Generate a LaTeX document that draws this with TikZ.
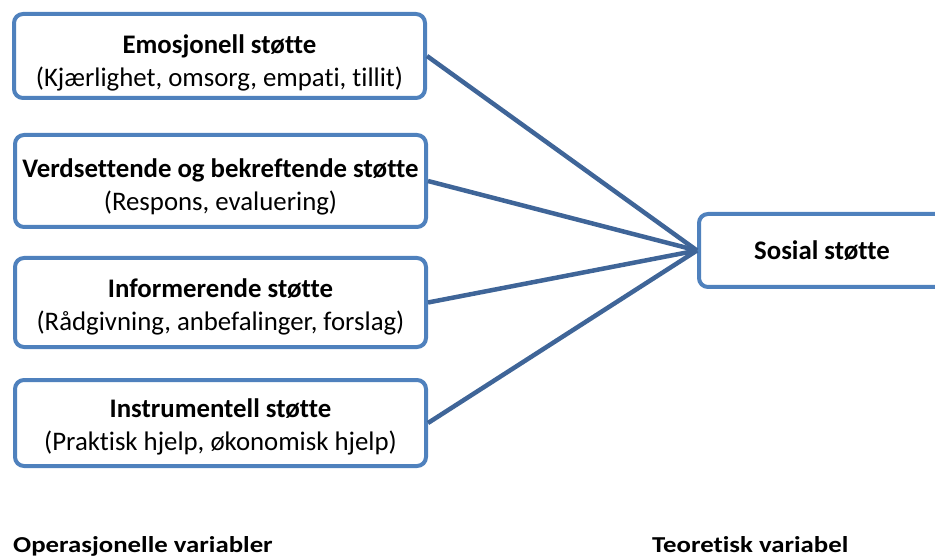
\documentclass[tikz,border=0pt]{standalone}
\usepackage{fontspec}
\setmainfont[Ligatures={NoCommon}]{Carlito}
\definecolor{boxblue}{HTML}{4F81BD}
\definecolor{lineblue}{HTML}{3F6598}
\begin{document}
\begin{tikzpicture}[x=1pt,y=-1pt,
  varbox/.style={draw=boxblue,line width=4pt,rounded corners=9pt,fill=white,
    minimum width=411pt,inner sep=0pt},
  boxtext/.style={align=center,inner sep=0pt,font=\fontsize{26.8}{33}\selectfont},
  theobox/.style={draw=boxblue,line width=4pt,rounded corners=9pt,fill=white,
    minimum width=246pt,minimum height=73pt,inner sep=0pt,font=\fontsize{26.8}{33}\selectfont\bfseries},
  link/.style={draw=lineblue,line width=4.5pt},
  caption/.style={anchor=base west,inner sep=0pt,font=\fontsize{26.8}{30}\selectfont\bfseries}]
\useasboundingbox (0,0) rectangle (935,556);
\clip (0,0) rectangle (935,556);
\node[varbox,minimum height=84pt] (b1) at (219.5,56) {};
\node[varbox,minimum height=92pt] (b2) at (220.5,181) {};
\node[varbox,minimum height=89pt] (b3) at (220.5,302.5) {};
\node[varbox,minimum height=86pt] (b4) at (220.5,423) {};
\node[boxtext] (t1) at ([yshift=-7pt]b1.center) {\textbf{Emosjonell støtte}\\(Kjærlighet, omsorg, empati, tillit)};
\node[boxtext] (t2) at ([yshift=-6pt]b2.center) {\textbf{Verdsettende og bekreftende støtte}\\(Respons, evaluering)};
\node[boxtext] (t3) at ([yshift=-4pt]b3.center) {\textbf{Informerende støtte}\\(Rådgivning, anbefalinger, forslag)};
\node[boxtext] (t4) at ([yshift=-4pt]b4.center) {\textbf{Instrumentell støtte}\\(Praktisk hjelp, økonomisk hjelp)};
\node[theobox] (s) at (822,250.5) {Sosial støtte};
\draw[link] (b1.east) -- (s.west);
\draw[link] (b2.east) -- (s.west);
\draw[link] (b3.east) -- (s.west);
\draw[link] (b4.east) -- (s.west);
\node[caption] (op) at (13,552) {\scalebox{1}[0.85]{Operasjonelle variabler}};
\node[caption] (te) at (652,552) {\scalebox{1}[0.85]{Teoretisk variabel}};
\end{tikzpicture}
\end{document}
